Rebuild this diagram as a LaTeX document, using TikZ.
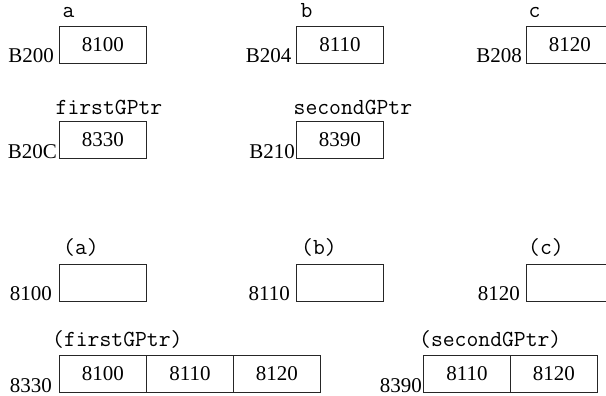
\documentclass[tikz,border=0pt]{standalone}
\usepackage{fontspec}
\setmainfont{Liberation Serif}
\begin{document}
\begin{tikzpicture}[x=1pt,y=-1pt,
  cell/.style={draw=black!85, line width=0.9pt, minimum width=87pt,
    minimum height=37pt, inner sep=0pt, anchor=north west,
    font=\fontsize{21}{23}\selectfont},
  addr/.style={inner sep=0pt, anchor=base east,
    font=\fontsize{21}{23}\selectfont},
  var/.style={inner sep=0pt, anchor=base west,
    font=\ttfamily\fontsize{23}{25}\selectfont}]
\useasboundingbox (0,0) rectangle (606,396);
\clip (0,0) rectangle (606,396);

% pointer variables a, b, c
\node[cell] (boxA) at (59,26) {8100};
\node[cell] (boxB) at (296,26) {8110};
\node[cell] (boxC) at (526,26) {8120};
\node[var] (varA) at (62.5,18) {a};
\node[var] (varB) at (300.5,18) {b};
\node[var] (varC) at (528.5,18) {c};
\node[addr] (adrA) at (54,63) {B200};
\node[addr] (adrB) at (291.5,63) {B204};
\node[addr] (adrC) at (522,63) {B208};

% group pointers
\node[cell] (boxFirst) at (59,121) {8330};
\node[cell] (boxSecond) at (296,121) {8390};
\node[var] (varFirst) at (55.5,114) {firstGPtr};
\node[var] (varSecond) at (293.5,114) {secondGPtr};
\node[addr] (adrFirst) at (57,158) {B20C};
\node[addr] (adrSecond) at (295,158) {B210};

% pointed-to objects
\node[cell] (objA) at (59,264) {};
\node[cell] (objB) at (296,264) {};
\node[cell] (objC) at (526,264) {};
\node[var] (lblA) at (63,254) {(a)};
\node[var] (lblB) at (301,254) {(b)};
\node[var] (lblC) at (528,254) {(c)};
\node[addr] (adrObjA) at (52,300) {8100};
\node[addr] (adrObjB) at (290,300) {8110};
\node[addr] (adrObjC) at (520,300) {8120};

% pointer arrays
\node[cell] (f1) at (59,355) {8100};
\node[cell] (f2) at (146,355) {8110};
\node[cell] (f3) at (233,355) {8120};
\node[cell] (s1) at (423,355) {8110};
\node[cell] (s2) at (510,355) {8120};
\node[var] (lblFirst) at (52,346) {(firstGPtr)};
\node[var] (lblSecond) at (419,346) {(secondGPtr)};
\node[addr] (adrF) at (52,392) {8330};
\node[addr] (adrS) at (422,392) {8390};
\end{tikzpicture}
\end{document}
